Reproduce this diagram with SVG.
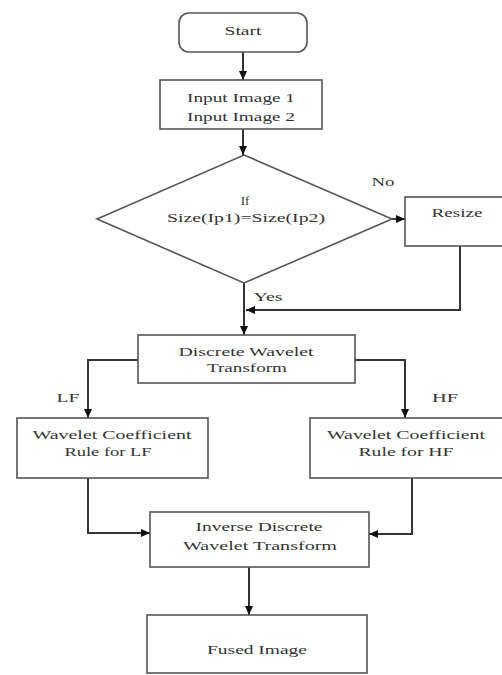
<svg xmlns="http://www.w3.org/2000/svg" width="502" height="675" viewBox="0 0 502 675">
<style>
.box{fill:#fff;stroke:#555;stroke-width:1.6}
.ln{fill:none;stroke:#333;stroke-width:2}
text{font-family:"Liberation Serif","Times New Roman",serif;font-size:13px;fill:#333;text-anchor:middle}
</style>
<defs>
<marker id="ah" markerWidth="10" markerHeight="10" refX="9" refY="5" orient="auto" markerUnits="userSpaceOnUse">
<path d="M0,1 L9,5 L0,9 Z" fill="#111"/>
</marker>
</defs>
<rect width="502" height="675" fill="#fff"/>
<g id="connectors">
<path class="ln" d="M243,52 V80" marker-end="url(#ah)"/>
<path class="ln" d="M243,129 V155" marker-end="url(#ah)"/>
<path class="ln" d="M392,219 H405" marker-end="url(#ah)"/>
<path class="ln" d="M244,283 V335" marker-end="url(#ah)"/>
<path class="ln" d="M460,246 V310 H246" marker-end="url(#ah)"/>
<path class="ln" d="M138,360 H88 V418" marker-end="url(#ah)"/>
<path class="ln" d="M355,360 H405 V418" marker-end="url(#ah)"/>
<path class="ln" d="M88,478 V533 H150" marker-end="url(#ah)"/>
<path class="ln" d="M412,478 V534 H369" marker-end="url(#ah)"/>
<path class="ln" d="M249,567 V615" marker-end="url(#ah)"/>
</g>
<g id="labels">
<text x="383" y="186" textLength="23" lengthAdjust="spacingAndGlyphs">No</text>
<text x="268" y="301" textLength="29" lengthAdjust="spacingAndGlyphs">Yes</text>
<text x="68" y="402" textLength="23" lengthAdjust="spacingAndGlyphs">LF</text>
<text x="445" y="402" textLength="26" lengthAdjust="spacingAndGlyphs">HF</text>
</g>
<g id="start">
<rect class="box" x="179" y="13" width="128" height="39" rx="10"/>
<text x="243" y="35" textLength="37" lengthAdjust="spacingAndGlyphs">Start</text>
</g>
<g id="input">
<rect class="box" x="160" y="80" width="162" height="49"/>
<text x="241" y="102" textLength="108" lengthAdjust="spacingAndGlyphs">Input Image 1</text>
<text x="241" y="121" textLength="108" lengthAdjust="spacingAndGlyphs">Input Image 2</text>
</g>
<g id="decision">
<polygon class="box" points="244,155 392,219 244,283 97,219"/>
<text x="245" y="205">If</text>
<text x="246" y="222" textLength="158" lengthAdjust="spacingAndGlyphs">Size(Ip1)=Size(Ip2)</text>
</g>
<g id="resize">
<rect class="box" x="405" y="197" width="100" height="49"/>
<text x="457" y="217" textLength="51" lengthAdjust="spacingAndGlyphs">Resize</text>
</g>
<g id="dwt">
<rect class="box" x="138" y="335" width="217" height="48"/>
<text x="246" y="356" textLength="135" lengthAdjust="spacingAndGlyphs">Discrete Wavelet</text>
<text x="247" y="372" textLength="80" lengthAdjust="spacingAndGlyphs">Transform</text>
</g>
<g id="lf">
<rect class="box" x="17" y="418" width="191" height="60"/>
<text x="112" y="439" textLength="159" lengthAdjust="spacingAndGlyphs">Wavelet Coefficient</text>
<text x="108" y="456" textLength="87" lengthAdjust="spacingAndGlyphs">Rule for LF</text>
</g>
<g id="hf">
<rect class="box" x="310" y="418" width="195" height="60"/>
<text x="406" y="439" textLength="158" lengthAdjust="spacingAndGlyphs">Wavelet Coefficient</text>
<text x="406" y="456" textLength="95" lengthAdjust="spacingAndGlyphs">Rule for HF</text>
</g>
<g id="idwt">
<rect class="box" x="150" y="512" width="219" height="55"/>
<text x="259" y="531" textLength="127" lengthAdjust="spacingAndGlyphs">Inverse Discrete</text>
<text x="260" y="550" textLength="154" lengthAdjust="spacingAndGlyphs">Wavelet Transform</text>
</g>
<g id="fused">
<rect class="box" x="147" y="615" width="220" height="58"/>
<text x="257" y="654" textLength="100" lengthAdjust="spacingAndGlyphs">Fused Image</text>
</g>
</svg>
